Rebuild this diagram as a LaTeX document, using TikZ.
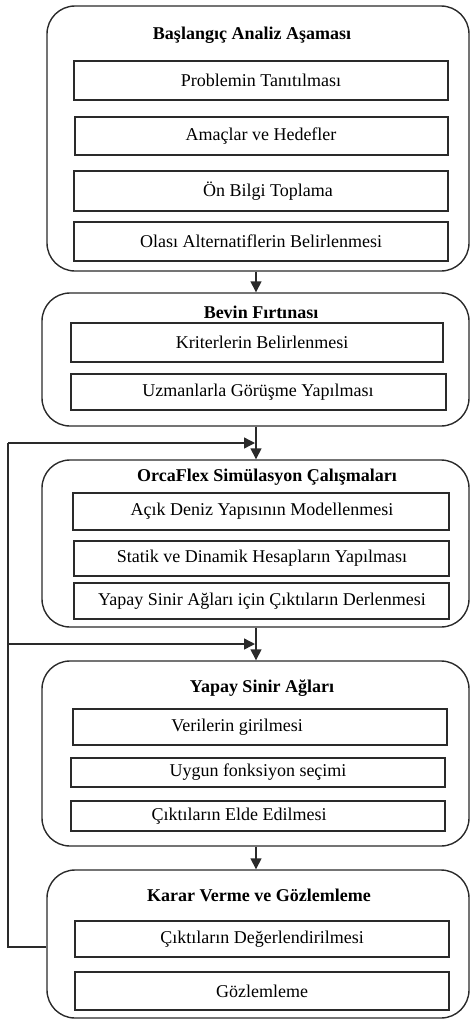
\documentclass[tikz,border=0pt]{standalone}
\usepackage{fontspec}
\setmainfont{Liberation Serif}
\usetikzlibrary{arrows.meta}
\definecolor{ln}{HTML}{2A2A2A}
\tikzset{
  outerbox/.style={draw=ln, line width=1.4pt, rounded corners=28pt, inner sep=0pt},
  innerbox/.style={draw=ln, line width=1.4pt, inner sep=0pt},
  txt/.style={inner sep=0pt, font=\fontsize{18}{21}\selectfont},
  ttl/.style={inner sep=0pt, font=\fontsize{18}{21}\selectfont\bfseries},
  conn/.style={draw=ln, line width=1.4pt},
  arr/.style={conn, -{Triangle[length=11pt,width=11pt]}}
}
\newcommand{\obox}[5]{\node[outerbox, minimum width={#4-#2}, minimum height={#5-#3}] (#1) at ({(#2+#4)/2},{(#3+#5)/2}) {};}
\newcommand{\ibox}[7]{\node[innerbox, minimum width={#4-#2}, minimum height={#5-#3}] (#1) at ({(#2+#4)/2},{(#3+#5)/2}) {};
  \node[txt] (#1t) at (#6,{(#3+#5)/2}) {#7};}
\begin{document}
\begin{tikzpicture}[x=1pt,y=-1pt]
\useasboundingbox (0,0) rectangle (470,1020);
% outer boxes
\obox{B1}{47}{6}{469}{271}
\obox{B2}{42}{293}{469}{426}
\obox{B3}{42}{460}{469}{627}
\obox{B4}{42}{661}{469}{846}
\obox{B5}{47}{870}{469}{1018}
% titles
\node[ttl] (T1) at (252,35) {Başlangıç Analiz Aşaması};
\node[ttl] (T2) at (261,312) {Bevin Fırtınası};
\node[ttl] (T3) at (267,477) {OrcaFlex Simülasyon Çalışmaları};
\node[ttl] (T4) at (262,688) {Yapay Sinir Ağları};
\node[ttl] (T5) at (259,895) {Karar Verme ve Gözlemleme};
% inner boxes
\ibox{a1}{74}{61}{448}{100}{261}{Problemin Tanıtılması}
\ibox{a2}{75}{117}{448}{155}{261}{Amaçlar ve Hedefler}
\ibox{a3}{74}{171}{448}{211}{268}{Ön Bilgi Toplama}
\ibox{a4}{74}{222}{448}{261}{261}{Olası Alternatiflerin Belirlenmesi}
\ibox{b1}{71}{323}{443}{362}{262}{Kriterlerin Belirlenmesi}
\ibox{b2}{71}{374}{446}{410}{258}{Uzmanlarla Görüşme Yapılması}
\ibox{c1}{73}{493}{449}{530}{262}{Açık Deniz Yapısının Modellenmesi}
\ibox{c2}{74}{541}{449}{576}{262}{Statik ve Dinamik Hesapların Yapılması}
\ibox{c3}{74}{583}{449}{619}{262}{Yapay Sinir Ağları için Çıktıların Derlenmesi}
\ibox{d1}{73}{709}{447}{745}{237}{Verilerin girilmesi}
\ibox{d2}{71}{758}{445}{787}{258}{Uygun fonksiyon seçimi}
\ibox{d3}{71}{801}{445}{831}{239}{Çıktıların Elde Edilmesi}
\ibox{e1}{75}{921}{449}{957}{262}{Çıktıların Değerlendirilmesi}
\ibox{e2}{75}{972}{449}{1010}{262}{Gözlemleme}
% connectors
\coordinate (ax) at (256,0);
\coordinate (fbL) at (8,947);
\coordinate (fbT) at (8,443);
\coordinate (fbM) at (8,644);
\draw[arr] (B1.south -| ax) -- (B2.north -| ax);
\draw[arr] (B2.south -| ax) -- (B3.north -| ax);
\draw[arr] (B3.south -| ax) -- (B4.north -| ax);
\draw[arr] (B4.south -| ax) -- (B5.north -| ax);
\draw[conn] (B5.west |- fbL) -- (fbL) -- (fbT);
\draw[arr, shorten >=1pt] (fbT) -- (ax |- fbT);
\draw[arr, shorten >=1pt] (fbM) -- (ax |- fbM);
\end{tikzpicture}
\end{document}
